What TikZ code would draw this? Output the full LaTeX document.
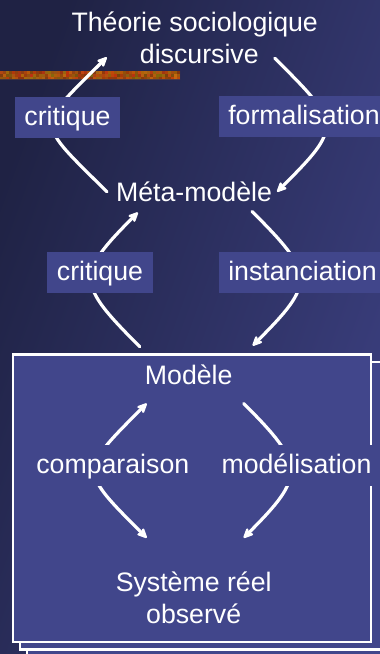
\documentclass[tikz,border=0pt]{standalone}
\usepackage{fontspec}
\setmainfont{Liberation Sans}
\usetikzlibrary{arrows.meta}
\definecolor{bgdark}{HTML}{1F2244}
\definecolor{bglight}{HTML}{3B3F7F}
\definecolor{panel}{HTML}{41468B}
\begin{document}
\begin{tikzpicture}[x=1pt,y=-1pt,
  txt/.style={text=white, inner sep=0pt, anchor=base, font=\fontsize{26.7}{32}\selectfont},
  lab/.style={fill=panel, text=white, inner xsep=9.5pt, inner ysep=9.5pt,
    text height=19pt, text depth=3pt, font=\fontsize{26.7}{32}\selectfont},
  frame/.style={draw=white, line width=2.5pt, fill=panel},
  flow/.style={draw=white, line width=3.2pt, line cap=round},
  tip/.style={-{Stealth[length=13pt,width=12pt,round]}},
  tips/.style={{Stealth[length=13pt,width=12pt,round]}-{Stealth[length=13pt,width=12pt,round]}}]
% canvas and background
\clip (0,0) rectangle (380,654);
\useasboundingbox (0,0) rectangle (380,654);
\shade[top color=bgdark, bottom color=bglight, shading angle=70] (0,0) rectangle (380,654);

% textured ornamental stripe
\pgfmathsetseed{11}
\foreach \i in {0,...,59}{
  \foreach \j in {0,1,2}{
    \pgfmathsetmacro\t{rnd}
    \pgfmathsetmacro\r{0.45+0.40*\t+0.10*rnd}
    \pgfmathsetmacro\g{0.15+0.35*rnd}
    \pgfmathsetmacro\b{0.03+0.07*rnd}
    \definecolor{stripecol}{rgb}{\r,\g,\b}
    \fill[stripecol] (3*\i,71+2.8*\j) rectangle (3*\i+3,73.8+2.8*\j);
  }
}
\fill[left color=orange!60!brown, right color=orange!85!brown, opacity=0.2] (0,71) rectangle (180,79.4);

% stacked frames
\draw[frame] (26.8,369.9) rectangle (392,660);
\draw[frame] (19.8,362.2) rectangle (386,649.7);
\draw[frame] (12.8,354.5) rectangle (371.2,642);

% main texts
\node[txt] (theo1) at (194.7,31.5) {Théorie sociologique};
\node[txt] (theo2) at (199.3,63.3) {discursive};
\node[txt] (meta) at (194,201.5) {Méta-modèle};
\node[txt] (modele) at (188.7,384) {Modèle};
\node[txt] (sys1) at (193.7,591.7) {Système réel};
\node[txt] (sys2) at (193.7,623.3) {observé};

% connectors
\draw[flow,tip] ([shift={(-9,0)}]meta.west) .. controls +(-72,-72) and +(-72,72) .. ([shift={(-33,3.5)}]theo2.west);
\draw[flow,tip] ([shift={(16,4.5)}]theo2.east) .. controls +(66,66) and +(66,-66) .. ([shift={(5,0)}]meta.east);
\draw[flow,tip] ([shift={(-5,-17.5)}]modele.north west) .. controls +(-63,-63) and +(-63,63) .. ([shift={(22,10.5)}]meta.south west);
\draw[flow,tip] ([shift={(-20,9.5)}]meta.south east) .. controls +(63,63) and +(63,-63) .. ([shift={(20,-18.5)}]modele.north east);
\draw[flow,tips] ([shift={(-47,-34)}]sys1.north) .. controls +(-68,-68) and +(-68,68) .. ([shift={(2,19)}]modele.south west);
\draw[flow,tip] ([shift={(11,19)}]modele.south east) .. controls +(62,62) and +(62,-62) .. ([shift={(50,-34)}]sys1.north);

% connector labels
\node[lab] (labA) at (67.5,117) {critique};
\node[lab] (labF) at (304,116) {formalisation};
\node[lab] (labB) at (100,272) {critique};
\node[lab] (labI) at (302.5,272) {instanciation};
\node[lab] (labC) at (112.8,465) {comparaison};
\node[lab] (labM) at (296.5,465) {modélisation};
\end{tikzpicture}
\end{document}
